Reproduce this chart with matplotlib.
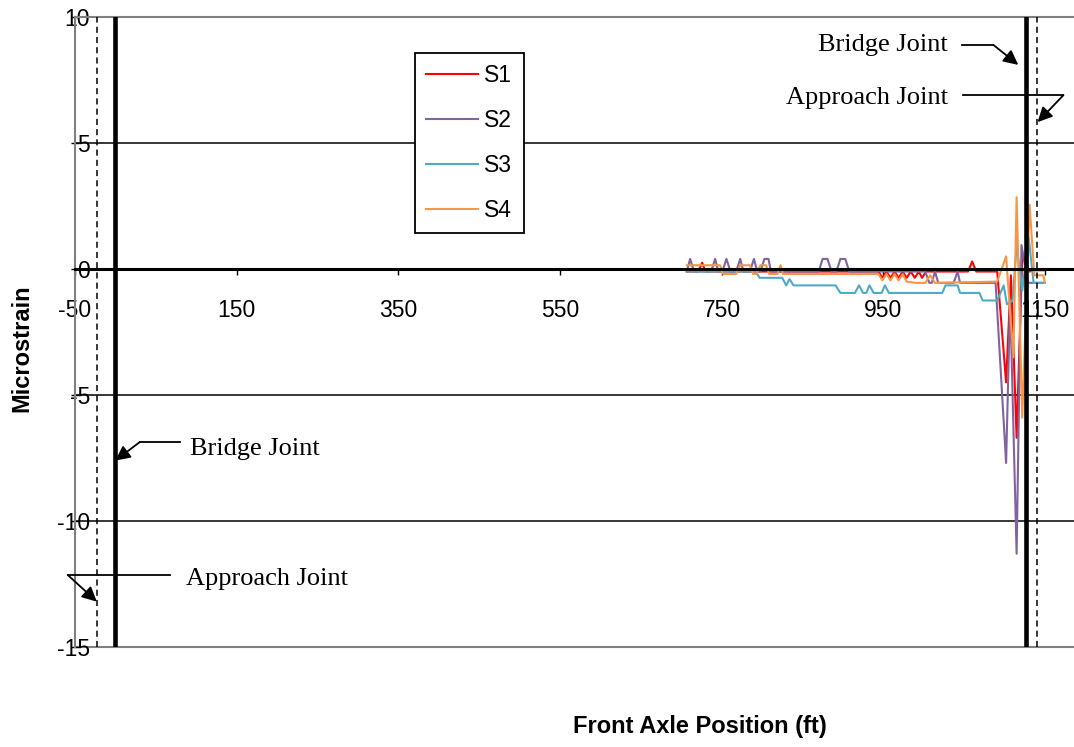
import matplotlib
matplotlib.use('Agg')
import matplotlib.pyplot as plt

plt.rcParams['font.family'] = ['Liberation Sans', 'DejaVu Sans']

# strain readings vs front axle position (ft)
s1_x = [707, 721, 726, 730, 944, 949, 954, 959, 964, 969, 974, 979, 984, 989, 994, 998, 1003,
        1055, 1060, 1065, 1091, 1102, 1108, 1115, 1122, 1131, 1137, 1150]
s1_y = [-0.1, -0.1, 0.25, -0.1, -0.1, -0.35, -0.1, -0.35, -0.1, -0.35, -0.1, -0.35, -0.1, -0.35, -0.1, -0.35, -0.1,
        -0.1, 0.3, -0.1, -0.1, -4.5, -0.25, -6.7, 0.55, -0.1, -0.05, -0.05]

s2_x = [707, 711, 716, 737, 742, 746, 751, 756, 761, 768, 773, 777, 785, 790, 794, 798, 803, 808, 811,
        870, 875, 881, 886, 892, 897, 903, 908, 1002, 1007, 1010, 1014, 1018, 1037, 1042, 1045,
        1089, 1102, 1107, 1115, 1121, 1129, 1150]
s2_y = [-0.1, 0.4, -0.1, -0.1, 0.4, -0.1, -0.1, 0.4, -0.1, -0.1, 0.4, -0.1, -0.1, 0.4, -0.1, -0.1, 0.4, 0.4, -0.1,
        -0.1, 0.4, 0.4, -0.1, -0.1, 0.4, 0.4, -0.1, -0.1, -0.55, -0.55, -0.1, -0.55, -0.55, -0.1, -0.55,
        -0.55, -7.7, -1.2, -11.3, 0.95, -0.55, -0.55]

s3_x = [707, 792, 797, 825, 830, 834, 839, 891, 897, 915, 920, 925, 929, 933, 938, 948, 952, 957,
        1023, 1027, 1042, 1045, 1069, 1073, 1091, 1099, 1103, 1110, 1115, 1122, 1130, 1136, 1150]
s3_y = [-0.1, -0.1, -0.35, -0.35, -0.65, -0.4, -0.65, -0.65, -0.95, -0.95, -0.65, -0.95, -0.95, -0.65, -0.95, -0.95, -0.65, -0.95,
        -0.95, -0.65, -0.65, -0.95, -0.95, -1.25, -1.25, -0.65, -1.4, -1.25, 0.95, -0.85, 1.25, -0.55, -0.55]

s4_x = [707, 748, 752, 768, 773, 785, 789, 793, 798, 805, 809, 819, 823, 826, 944, 949, 954, 959, 964,
        969, 974, 979, 990, 1002, 1008, 1014, 1091, 1102, 1111, 1115, 1122, 1131, 1137, 1148, 1150]
s4_y = [0.15, 0.15, -0.2, -0.2, 0.15, 0.15, -0.2, -0.2, 0.15, 0.15, -0.2, -0.2, 0.15, -0.2, -0.2, -0.45, -0.2, -0.45, -0.2,
        -0.45, -0.2, -0.5, -0.55, -0.55, -0.25, -0.55, -0.5, 0.5, -3.5, 2.85, -5.9, 2.55, -0.25, -0.25, -0.55]

series = [('S1', s1_x, s1_y, '#FF0000'),
          ('S2', s2_x, s2_y, '#8064A2'),
          ('S3', s3_x, s3_y, '#4BACC6'),
          ('S4', s4_x, s4_y, '#F79646')]

bridge_joints = [0, 1127]
approach_joints = [-23, 1140]

x_ticks = [-50, 150, 350, 550, 750, 950, 1150]
y_ticks = [-15, -10, -5, 0, 5, 10]

fig = plt.figure(figsize=(10.74, 7.47), dpi=100)
ax = fig.add_axes([75 / 1074, 1 - 647 / 747, 1 - 75 / 1074, 630 / 747])
ax.set_xlim(-50, 1186)
ax.set_ylim(-15, 10)

for y in [5, -5, -10]:
    ax.axhline(y, color='black', lw=1.1, zorder=1)
ax.axhline(-15, color='#808080', lw=1.5, clip_on=False, zorder=1)

for name, xs, ys, c in series:
    ax.plot(xs, ys, color=c, lw=1.5, label=name, zorder=2)

for xj in bridge_joints:
    ax.axvline(xj, color='black', lw=3.3, zorder=3)
for xj in approach_joints:
    ax.axvline(xj, color='black', lw=1.1, dashes=(4, 2.7), zorder=3)

# spines
ax.spines['right'].set_visible(False)
ax.spines['top'].set_color('#808080')
ax.spines['top'].set_linewidth(1.5)
ax.spines['left'].set_color('#808080')
ax.spines['left'].set_linewidth(1.5)
ax.spines['bottom'].set_position(('data', 0))
ax.spines['bottom'].set_linewidth(2.2)
ax.spines['bottom'].set_zorder(2.5)

ax.set_xticks(x_ticks)
ax.set_xticklabels([str(v) for v in x_ticks])
ax.set_yticks(y_ticks)
ax.set_yticklabels([str(v) for v in y_ticks])
ax.tick_params(axis='x', direction='out', length=4.5, width=1, pad=17, labelsize=16.5)
ax.tick_params(axis='y', direction='inout', length=6, width=1, pad=-13.8, labelsize=16.5)

# joint annotations
serif = 'Liberation Serif'
notes = [
    ('Bridge Joint', (1030, 8.9), 'right', [(1048, 8.9), (1086, 8.9)], (1117, 8.1)),
    ('Approach Joint', (1030, 6.8), 'right', [(1049, 6.9), (1173, 6.9)], (1141, 5.83)),
    ('Bridge Joint', (92, -7.15), 'left', [(80, -6.87), (30, -6.87)], (0, -7.6)),
    ('Approach Joint', (87, -12.3), 'left', [(68, -12.14), (-59, -12.14)], (-23, -13.2)),
]
for txt, pos, ha, path, tip in notes:
    ax.text(pos[0], pos[1], txt, ha=ha, va='center', fontsize=19, family=serif, zorder=4)
    ax.plot([p[0] for p in path], [p[1] for p in path], color='black', lw=1.3, clip_on=False, zorder=4)
    ax.annotate('', xy=tip, xytext=path[-1], annotation_clip=False,
                arrowprops=dict(arrowstyle='-|>', color='black', lw=1.3, mutation_scale=22,
                                shrinkA=0, shrinkB=0))

leg = ax.legend(loc='upper left', bbox_to_anchor=(415 / 1074, 1 - 53 / 747), bbox_transform=fig.transFigure,
                borderaxespad=0, fontsize=16.5, handlelength=2.27, handletextpad=0.25, labelspacing=0.95,
                borderpad=0.5, fancybox=False, framealpha=1, edgecolor='black')
leg.get_frame().set_linewidth(1.3)
leg.set_zorder(5)

fig.text(22 / 1074, 1 - 348 / 747, 'Microstrain', rotation=90, ha='center', va='center',
         fontsize=17, fontweight='bold')
fig.text(700 / 1074, 1 - 727 / 747, 'Front Axle Position (ft)', ha='center', va='center',
         fontsize=17, fontweight='bold')

fig.savefig('out.png', dpi=100)
